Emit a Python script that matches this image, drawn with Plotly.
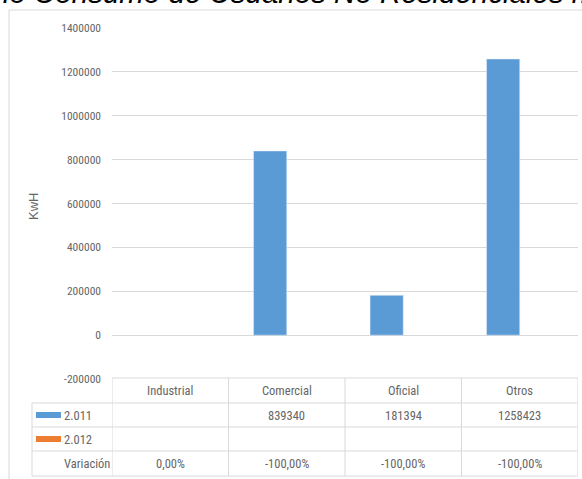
import plotly.graph_objects as go

categories = ["Industrial", "Comercial", "Oficial", "Otros"]
series_names = ["2.011", "2.012"]
values_2011 = [None, 839340, 181394, 1258423]
values_2012 = [None, None, None, None]
variacion = ["0,00%", "-100,00%", "-100,00%", "-100,00%"]
row_labels = ["2.011", "2.012", "Variación"]
colors = ["#5b9bd5", "#ed7d31"]
y_ticks = [-200000, 0, 200000, 400000, 600000, 800000, 1000000, 1200000, 1400000]
y_tick_text = ["-200000", "0", "200000", "400000", "600000", "800000", "1000000", "1200000", "1400000"]
title_text = "Comparativo Año Consumo de Usuarios No Residenciales municipio"
y_title = "KwH"

W, H = 582, 479
L, R, T, B = 112, 4, 28, 100
PW, PH = W - L - R, H - T - B
FONT = "Liberation Sans Narrow, Arial Narrow, Roboto Condensed, sans-serif"
GRAY = "#666666"
LINE = "#d9d9d9"

def py(px):  # pixel y -> paper y
    return (H - B - px) / PH

def pxx(px):  # pixel x -> paper x
    return (px - L) / PW

fig = go.Figure()
fig.add_trace(go.Bar(x=categories, y=values_2011, name=series_names[0], marker_color=colors[0]))
fig.add_trace(go.Bar(x=categories, y=values_2012, name=series_names[1], marker_color=colors[1]))

shapes = []
annotations = []

# outer chart border
shapes.append(dict(type="rect", xref="paper", yref="paper", x0=pxx(9), x1=pxx(600), y0=py(500), y1=py(10),
                   line=dict(color=LINE, width=1), fillcolor="rgba(0,0,0,0)", layer="below"))

# data table
row_tops = [378, 403, 427, 451, 476]
n = len(categories)
shapes.append(dict(type="line", xref="x", yref="paper", x0=-0.5, x1=n - 0.5, y0=py(row_tops[0]), y1=py(row_tops[0]),
                   line=dict(color=LINE, width=1)))
for yy in row_tops[1:]:
    shapes.append(dict(type="line", xref="paper", yref="paper", x0=pxx(32), x1=1, y0=py(yy), y1=py(yy),
                       line=dict(color=LINE, width=1)))
for i in range(n + 1):
    shapes.append(dict(type="line", xref="x", yref="paper", x0=i - 0.5, x1=i - 0.5, y0=py(row_tops[0]), y1=py(row_tops[-1]),
                       line=dict(color=LINE, width=1)))
shapes.append(dict(type="line", xref="paper", yref="paper", x0=pxx(32), x1=pxx(32), y0=py(row_tops[1]), y1=py(row_tops[-1]),
                   line=dict(color=LINE, width=1)))

tfont = dict(family=FONT, size=12.5, color=GRAY)
for i, c in enumerate(categories):
    annotations.append(dict(x=i, y=py((row_tops[0] + row_tops[1]) / 2), xref="x", yref="paper", text=c,
                            showarrow=False, font=tfont, xanchor="center", yanchor="middle"))
rows = [values_2011, values_2012, variacion]
for r, (lab, vals) in enumerate(zip(row_labels, rows)):
    yc = py((row_tops[r + 1] + row_tops[r + 2]) / 2)
    annotations.append(dict(x=pxx(62), y=yc, xref="paper", yref="paper", text=lab, showarrow=False,
                            font=tfont, xanchor="left", yanchor="middle"))
    if r < 2:
        shapes.append(dict(type="rect", xref="paper", yref="paper", x0=pxx(36), x1=pxx(61),
                           y0=yc - 3 / PH, y1=yc + 3 / PH, fillcolor=colors[r], line=dict(width=0)))
    for i, v in enumerate(vals):
        if v is None:
            continue
        annotations.append(dict(x=i, y=yc, xref="x", yref="paper", text=str(v), showarrow=False,
                                font=tfont, xanchor="center", yanchor="middle"))

annotations.append(dict(x=pxx(33), y=py(207), xref="paper", yref="paper", text=y_title, textangle=-90,
                        showarrow=False, font=dict(family="Liberation Sans, Arial, sans-serif", size=13, color=GRAY),
                        xanchor="center", yanchor="middle"))
annotations.append(dict(x=pxx(-203), y=py(-7), xref="paper", yref="paper", text="<i>" + title_text + "</i>",
                        showarrow=False, font=dict(family="Liberation Sans, Arial, sans-serif", size=29.5, color="#000000"),
                        xanchor="left", yanchor="middle"))

fig.update_layout(
    width=W, height=H,
    margin=dict(l=L, r=R, t=T, b=B),
    paper_bgcolor="white", plot_bgcolor="white",
    showlegend=False,
    barmode="group", bargap=0.43, bargroupgap=0,
    shapes=shapes, annotations=annotations,
    xaxis=dict(type="category", range=[-0.5, n - 0.5], showticklabels=False, showgrid=False,
               zeroline=False, showline=False, ticks=""),
    yaxis=dict(range=[-200000, 1400000], tickvals=y_ticks, ticktext=y_tick_text, showgrid=True,
               gridcolor=LINE, gridwidth=1, zeroline=False, showline=False, ticks="",
               tickfont=dict(family=FONT, size=11.5, color=GRAY), ticklabelstandoff=10),
)

fig.write_html("out.html")
